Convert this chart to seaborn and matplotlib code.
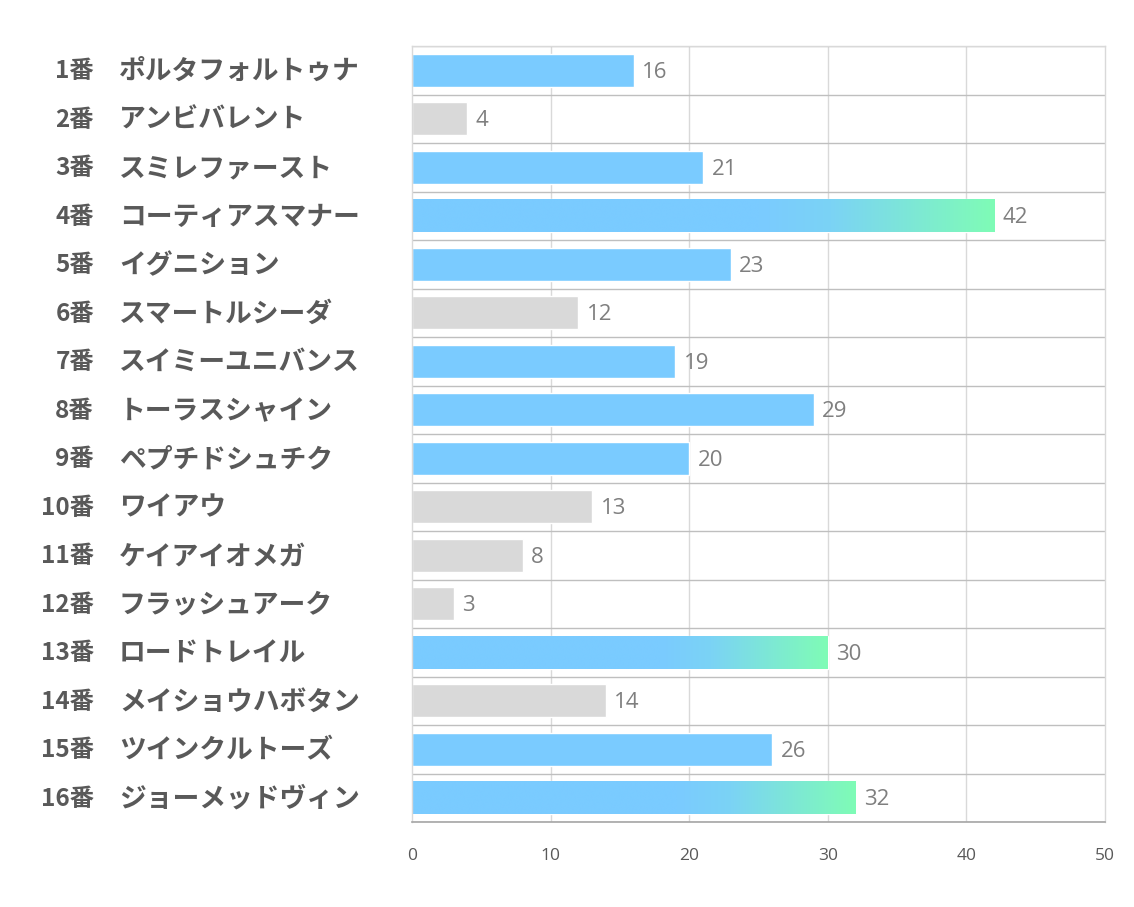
import numpy as np
import pandas as pd
import matplotlib
matplotlib.use("Agg")
import matplotlib.pyplot as plt
import matplotlib.transforms as mtransforms
from matplotlib.colors import LinearSegmentedColormap
import seaborn as sns

numbers = ["1番", "2番", "3番", "4番", "5番", "6番", "7番", "8番",
           "9番", "10番", "11番", "12番", "13番", "14番", "15番", "16番"]
names = ["ポルタフォルトゥナ", "アンビバレント", "スミレファースト", "コーティアスマナー",
         "イグニション", "スマートルシーダ", "スイミーユニバンス", "トーラスシャイン",
         "ペプチドシュチク", "ワイアウ", "ケイアイオメガ", "フラッシュアーク",
         "ロードトレイル", "メイショウハボタン", "ツインクルトーズ", "ジョーメッドヴィン"]
values = [16, 4, 21, 42, 23, 12, 19, 29, 20, 13, 8, 3, 30, 14, 26, 32]
groups = ["blue", "gray", "blue", "top", "blue", "gray", "blue", "blue",
          "blue", "gray", "gray", "gray", "top", "gray", "blue", "top"]
xticks = [0, 10, 20, 30, 40, 50]

BLUE = "#7ACBFF"
GREEN = "#7FFCB6"
GRAY = "#D9D9D9"
color_map = {"blue": BLUE, "top": BLUE, "gray": GRAY}

sns.set_theme(style="white", rc={"xtick.major.size": 0, "xtick.minor.size": 0,
                                 "xtick.bottom": False, "ytick.left": False})
plt.rcParams["font.family"] = ["Noto Sans CJK JP", "DejaVu Sans"]

df = pd.DataFrame({"label": [f"{n} {m}" for n, m in zip(numbers, names)],
                   "value": values, "group": groups})

fig = plt.figure(figsize=(11.34, 9.07), dpi=100)
ax = fig.add_axes([412 / 1134, 1 - 822 / 907, (1105 - 412) / 1134, (822 - 46) / 907])

palette = [color_map[g] for g in groups]
sns.barplot(data=df, x="value", y="label", hue="label", palette=palette,
            legend=False, orient="h", width=0.68, ax=ax, saturation=1)

ax.grid(False)
ax.set_xlim(0, 50)
ax.set_ylim(15.5, -0.5)
ax.set_xticks(xticks)
ax.set_xticklabels([str(t) for t in xticks], fontsize=12.5, color="#595959",
                   family=["Open Sans", "DejaVu Sans"])
ax.xaxis.set_tick_params(which="both", length=0, width=0, pad=19, bottom=False)
ax.set_xlabel("")
ax.set_ylabel("")
ax.set_yticks(range(len(values)))
ax.set_yticklabels([])
ax.yaxis.set_tick_params(which="both", length=0, width=0, left=False)

# grid
ax.set_axisbelow(True)
for t in xticks[1:-1]:
    ax.axvline(t, color="#D9D9D9", lw=1, zorder=0.5, clip_on=True)
for i in range(len(values) + 1):
    ax.axhline(i - 0.5, color="#BFBFBF", lw=1, zorder=0.5)
for s in ["left", "right", "top"]:
    ax.spines[s].set_color("#D9D9D9")
    ax.spines[s].set_linewidth(1)
ax.spines["bottom"].set_color("#A6A6A6")
ax.spines["bottom"].set_linewidth(1.2)

# gradient bars
cmap = LinearSegmentedColormap.from_list(
    "bg", [(0, BLUE), (0.6, BLUE), (0.72, "#7BD3F5"), (1.0, GREEN)])
grad = np.linspace(0, 1, 256).reshape(1, -1)
for patch, g in zip(ax.patches, groups):
    if g == "top":
        x0, y0 = patch.get_x(), patch.get_y()
        w, h = patch.get_width(), patch.get_height()
        im = ax.imshow(grad, cmap=cmap, aspect="auto",
                       extent=[x0, x0 + w, y0 + h, y0], zorder=2,
                       interpolation="bicubic")
        im.set_clip_path(patch)
ax.set_xlim(0, 50)
ax.set_ylim(15.5, -0.5)

# value labels
for patch, v in zip(ax.patches, values):
    ax.annotate(str(v), (patch.get_width(), patch.get_y() + patch.get_height() / 2),
                xytext=(6, -1.5), textcoords="offset points", va="center", ha="left",
                fontsize=16, color="#7F7F7F", family=["Open Sans", "DejaVu Sans"],
                zorder=3)

# category labels
trans = mtransforms.blended_transform_factory(fig.transFigure, ax.transData)
for i, (n, m) in enumerate(zip(numbers, names)):
    ax.text(94 / 1134, i + 0.02, n, transform=trans, ha="right", va="center",
            fontsize=17.5, fontweight="bold", color="#595959")
    ax.text(119 / 1134, i + 0.02, m, transform=trans, ha="left", va="center",
            fontsize=19.3, fontweight="bold", color="#595959")

fig.savefig("out.png", dpi=100, facecolor="white")
